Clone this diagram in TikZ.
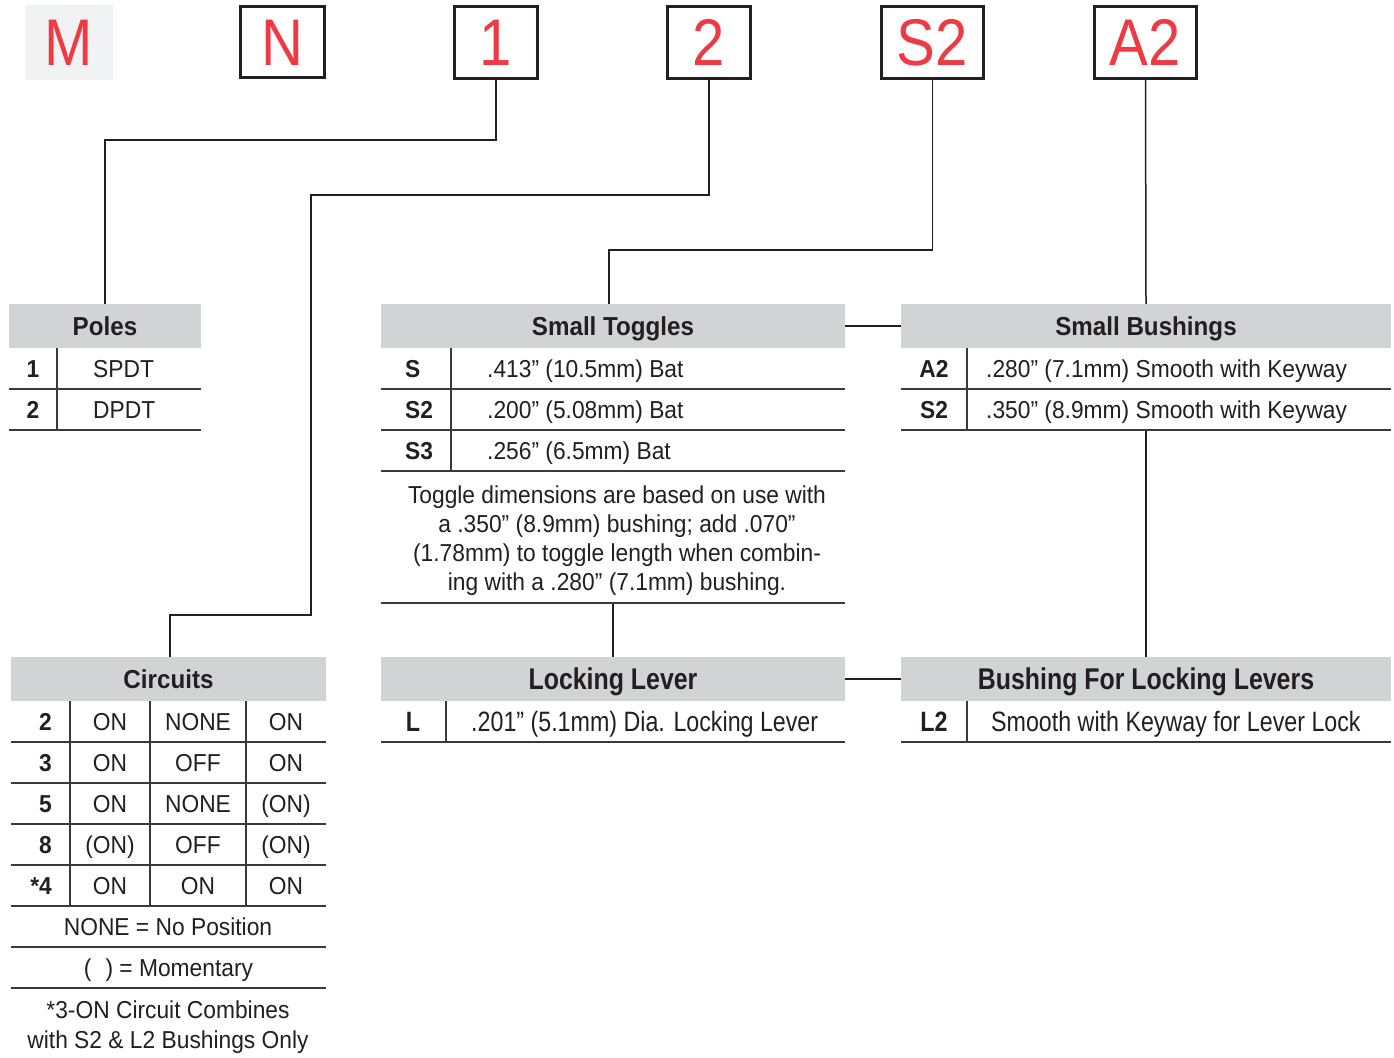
\documentclass[tikz,border=0pt]{standalone}
\usepackage{fontspec}
\setmainfont{Liberation Sans}[FakeStretch=0.93]
\newfontfamily\bigfont[FakeStretch=0.88]{Liberation Sans}
\newfontfamily\condfont[FakeStretch=0.83]{Liberation Sans}
\definecolor{hdr}{HTML}{D1D3D4}
\definecolor{mgray}{HTML}{F1F2F3}
\definecolor{codered}{HTML}{EE3B43}
\definecolor{rulec}{HTML}{3A3A3A}
\definecolor{boxc}{HTML}{231F20}
\begin{document}
\begin{tikzpicture}[x=1pt,y=-1pt,
  every node/.style={text=boxc},
  codebox/.style={draw=boxc, line width=3pt, minimum height=71pt, inner sep=0pt,
    text height=47pt, text depth=0pt, font=\bigfont\fontsize{66}{66}\selectfont, text=codered},
  hdrbox/.style={fill=hdr, minimum height=44pt, inner sep=0pt, text height=18.6pt, text depth=0pt,
    font=\bfseries\fontsize{26}{26}\selectfont},
  chdrbox/.style={hdrbox, text height=21.5pt, font=\condfont\bfseries\fontsize{30}{30}\selectfont},
  cell/.style={inner sep=0pt, text height=17.5pt, text depth=0pt, font=\fontsize{24.5}{24.5}\selectfont},
  codecell/.style={cell, font=\bfseries\fontsize{24.5}{24.5}\selectfont},
  ccell/.style={inner sep=0pt, text height=20pt, text depth=0pt, font=\condfont\fontsize{28}{28}\selectfont},
  ccodecell/.style={ccell, font=\condfont\bfseries\fontsize{28}{28}\selectfont},
  rule/.style={draw=rulec, line width=1.6pt},
  conn/.style={draw=boxc, line width=1.5pt}
]
\useasboundingbox (0,0) rectangle (1394,1057);

% ---- top code boxes
\node[codebox, draw=none, fill=mgray, minimum width=88pt, minimum height=75pt] (m) at (69,42.5) {M};
\node[codebox, minimum width=84pt] (n) at (282.5,42) {N};
\node[codebox, minimum width=83pt] (one) at (496,42.5) {1};
\node[codebox, minimum width=83pt] (two) at (709,42.5) {2};
\node[codebox, minimum width=102pt] (s2) at (932.5,42.5) {S2};
\node[codebox, minimum width=102pt] (a2) at (1145.5,42.5) {A2};

% ---- headers
\node[hdrbox, minimum width=192pt] (poleshead) at (105,326) {Poles};
\node[hdrbox, minimum width=464pt] (toghead) at (613,326) {Small Toggles};
\node[hdrbox, minimum width=490pt] (bushhead) at (1146,326) {Small Bushings};
\node[hdrbox, minimum width=315pt] (circhead) at (168.5,679) {Circuits};
\node[chdrbox, minimum width=464pt] (lockhead) at (613,679) {Locking Lever};
\node[chdrbox, minimum width=490pt] (lbhead) at (1146,679) {Bushing For Locking Levers};

% ---- connectors
\coordinate (bend2) at (311,615);
\coordinate (notebot) at (613,603);
\coordinate (bushbot) at (1146,430);
\draw[conn] (one.south) -- (one.south |- 0,140) -| (poleshead.north);
\draw[conn] (two.south) -- (two.south |- 0,195) -| (bend2) -| ([xshift=1.5pt]circhead.north);
\draw[conn] (s2.south) -- (s2.south |- 0,250) -| ([xshift=-4pt]toghead.north);
\draw[conn] (a2.south) -- (bushhead.north);
\draw[conn] (toghead.east) -- (bushhead.west);
\draw[conn] (notebot) -- (lockhead.north);
\draw[conn] (bushbot) -- (lbhead.north);
\draw[conn] (lockhead.east) -- (lbhead.west);

% ---- Poles table
\draw[rule] (9,389) -- (201,389) (9,430) -- (201,430) (57,348) -- (57,430);
\node[codecell] (p1c) at (33,368.5) {1};
\node[cell, anchor=west] (p1d) at (93,368.5) {SPDT};
\node[codecell] (p2c) at (33,409.5) {2};
\node[cell, anchor=west] (p2d) at (93,409.5) {DPDT};

% ---- Small Toggles table
\draw[rule] (381,389) -- (845,389) (381,430) -- (845,430) (381,471) -- (845,471)
  (381,603) -- (845,603) (451,348) -- (451,471);
\node[codecell, anchor=west] (t1c) at (405,368.5) {S};
\node[cell, anchor=west] (t1d) at (487,368.5) {.413” (10.5mm) Bat};
\node[codecell, anchor=west] (t2c) at (405,409.5) {S2};
\node[cell, anchor=west] (t2d) at (487,409.5) {.200” (5.08mm) Bat};
\node[codecell, anchor=west] (t3c) at (405,450.5) {S3};
\node[cell, anchor=west] (t3d) at (487,450.5) {.256” (6.5mm) Bat};
\node[inner sep=0pt, align=center, font=\fontsize{24.5}{29}\selectfont] (note) at (617,541)
  {Toggle dimensions are based on use with\\ a .350” (8.9mm) bushing; add .070”\\
   (1.78mm) to toggle length when combin-\\ing with a .280” (7.1mm) bushing.};

% ---- Small Bushings table
\draw[rule] (901,389) -- (1391,389) (901,430) -- (1391,430) (967,348) -- (967,430);
\node[codecell] (b1c) at (934,368.5) {A2};
\node[cell, anchor=west] (b1d) at (986,368.5) {.280” (7.1mm) Smooth with Keyway};
\node[codecell] (b2c) at (934,409.5) {S2};
\node[cell, anchor=west] (b2d) at (986,409.5) {.350” (8.9mm) Smooth with Keyway};

% ---- Circuits table
\foreach \yy in {742,783,824,865,906,947,988} {\draw[rule] (11,\yy) -- (326,\yy);}
\foreach \xx in {70,150,246} {\draw[rule] (\xx,701) -- (\xx,906);}
\foreach \i/\yy/\cc/\ca/\cb/\cd in {1/721.5/2/ON/NONE/ON, 2/762.5/3/ON/OFF/ON,
    3/803.5/5/ON/NONE/{(ON)}, 4/844.5/8/{(ON)}/OFF/{(ON)}, 5/885.5/{*4}/ON/ON/ON} {
  \node[codecell, anchor=east] (cc\i) at (52,\yy) {\cc};
  \node[cell] (ca\i) at (110,\yy) {\ca};
  \node[cell] (cb\i) at (198,\yy) {\cb};
  \node[cell] (cd\i) at (286,\yy) {\cd};
}
\node[cell] (cnone) at (168,926.5) {NONE = No Position};
\node[cell] (cmom) at (168.5,967.5) {(\hspace{14pt}) = Momentary};
\node[inner sep=0pt, align=center, font=\fontsize{24.5}{30}\selectfont] (cfoot) at (168,1027)
  {*3-ON Circuit Combines\\ with S2 \& L2 Bushings Only};

% ---- Locking Lever table
\draw[rule] (381,742) -- (845,742) (446,701) -- (446,742);
\node[ccodecell] (l1c) at (413,721.5) {L};
\node[ccell, anchor=west] (l1d) at (471,721.5) {.201” (5.1mm) Dia. Locking Lever};

% ---- Bushing for Locking Levers table
\draw[rule] (901,742) -- (1391,742) (967,701) -- (967,742);
\node[ccodecell] (lb1c) at (934,721.5) {L2};
\node[ccell, anchor=west] (lb1d) at (991,721.5) {Smooth with Keyway for Lever Lock};
\end{tikzpicture}
\end{document}
